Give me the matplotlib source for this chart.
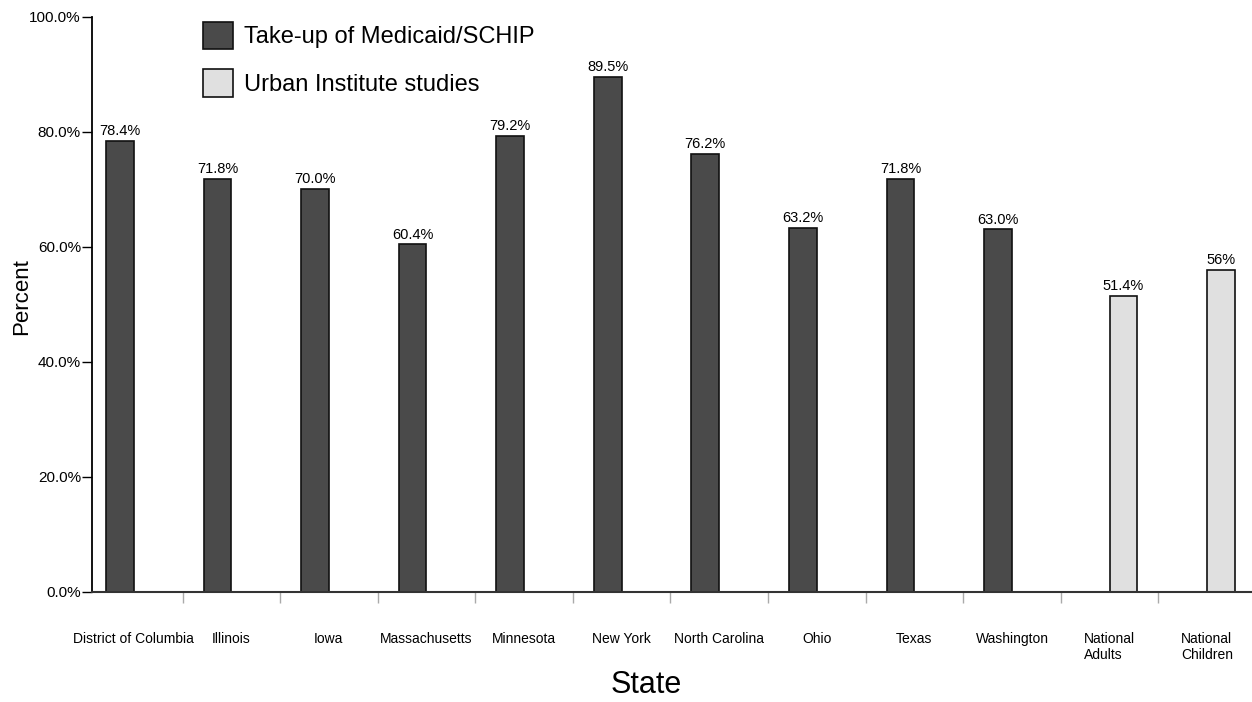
import numpy as np
import matplotlib
matplotlib.use("Agg")
import matplotlib.pyplot as plt
from matplotlib.patches import Patch

plt.rcParams['font.family'] = ['Liberation Sans Narrow', 'Liberation Sans', 'DejaVu Sans']

categories = ["District of Columbia", "Illinois", "Iowa", "Massachusetts", "Minnesota",
              "New York", "North Carolina", "Ohio", "Texas", "Washington",
              "National\nAdults", "National\nChildren"]
takeup_values = [78.4, 71.8, 70.0, 60.4, 79.2, 89.5, 76.2, 63.2, 71.8, 63.0]
takeup_labels = ["78.4%", "71.8%", "70.0%", "60.4%", "79.2%", "89.5%", "76.2%",
                 "63.2%", "71.8%", "63.0%"]
urban_values = [51.4, 56.0]
urban_labels = ["51.4%", "56%"]
yticks = [0, 20, 40, 60, 80, 100]

dark = "#4a4a4a"
light = "#e0e0e0"
W, H = 1252, 702

fig = plt.figure(figsize=(W / 100, H / 100), dpi=100)
ax = fig.add_axes([92 / W, 110.3 / H, (W - 92) / W, 575 / H])

x = np.arange(len(categories))
bw = 0.285
x_takeup = x[:len(takeup_values)] - bw / 2
x_urban = x[len(takeup_values):] + bw / 2

ax.bar(x_takeup, takeup_values, width=bw, color=dark, edgecolor="#111111", linewidth=1.2)
ax.bar(x_urban, urban_values, width=bw, color=light, edgecolor="#111111", linewidth=1.2)

for xi, v, s in zip(x_takeup, takeup_values, takeup_labels):
    ax.text(xi, v + 0.5, s, ha="center", va="bottom", fontsize=10.5)
for xi, v, s in zip(x_urban, urban_values, urban_labels):
    ax.text(xi, v + 0.5, s, ha="center", va="bottom", fontsize=10.5)

ax.set_xlim(-0.428, 11.46)
ax.set_ylim(0, 100)

ax.set_yticks(yticks)
ax.set_yticklabels([f"{t:.1f}%" for t in yticks], fontsize=11)
ax.tick_params(axis="y", length=7, width=1, color="black", pad=1)

ax.set_xticks(x)
ax.set_xticklabels(categories, fontsize=10, multialignment="left")
ax.tick_params(axis="x", which="major", length=0, pad=29)
ax.set_xticks(x[:-1] + 0.5, minor=True)
ax.tick_params(axis="x", which="minor", length=8, width=1, color="#aaaaaa")

for side in ["top", "right"]:
    ax.spines[side].set_visible(False)
ax.spines["left"].set_linewidth(1.3)
ax.spines["left"].set_color("black")
ax.spines["bottom"].set_linewidth(1.5)
ax.spines["bottom"].set_color("#333333")

fig.text(646 / W, 1 - 685 / H, "State", ha="center", va="center", fontsize=22)
fig.text(22 / W, 1 - 297 / H, "Percent", ha="center", va="center", rotation=90, fontsize=16)

handles = [Patch(facecolor=dark, edgecolor="#111111", linewidth=1.2),
           Patch(facecolor=light, edgecolor="#111111", linewidth=1.2)]
fig.legend(handles, ["Take-up of Medicaid/SCHIP", "Urban Institute studies"],
           loc="upper left", bbox_to_anchor=(203 / W, 1 - 22 / H), frameon=False,
           fontsize=17, handlelength=1.25, handleheight=1.4, handletextpad=0.5,
           labelspacing=0.85, borderpad=0, borderaxespad=0)

fig.savefig("out.png", dpi=100)
